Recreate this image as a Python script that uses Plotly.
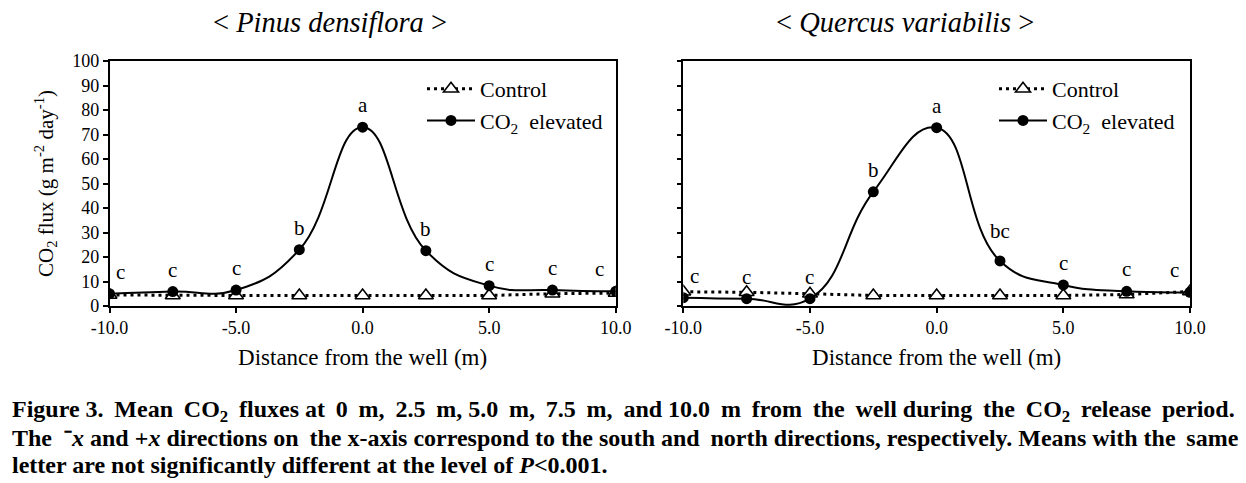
import plotly.graph_objects as go

FONT = "Liberation Serif"

distance = [-10.0, -7.5, -5.0, -2.5, 0.0, 2.5, 5.0, 7.5, 10.0]

pinus_control = [4.5, 4.3, 4.3, 4.3, 4.3, 4.3, 4.3, 5.0, 5.3]
pinus_elevated = [5.0, 5.9, 6.5, 23.0, 73.0, 22.6, 8.3, 6.5, 6.0]
pinus_letters = ["c", "c", "c", "b", "a", "b", "c", "c", "c"]

quercus_control = [5.8, 5.6, 5.0, 4.3, 4.3, 4.3, 4.3, 4.7, 5.9]
quercus_elevated = [3.4, 3.0, 3.0, 46.6, 72.8, 18.4, 8.6, 6.0, 5.6]
quercus_letters = ["c", "c", "c", "b", "a", "bc", "c", "c", "c"]

x_ticks = [-10, -5, 0, 5, 10]
x_tick_labels = ["-10.0", "-5.0", "0.0", "5.0", "10.0"]

panel_titles = ["< <i>Pinus densiflora</i> >", "< <i>Quercus variabilis</i> >"]

caption_lines = [
    "Figure 3. Mean CO<sub>2</sub> fluxes at 0 m, 2.5 m, 5.0 m, 7.5 m, and 10.0 m "
    "from the well during the CO<sub>2</sub> release period.",
    "The  \u207b<i>x</i> and +<i>x</i> directions on the x-axis correspond to the "
    "south and north directions, respectively. Means with the same",
    "letter are not significantly different at the level of <i>P</i><0.001.",
]


def justify(text, n_wide):
    # widen n_wide of the word gaps (spread evenly) with a thin space
    words = text.split(" ")
    gaps = len(words) - 1
    out = words[0]
    acc = 0
    for g in range(gaps):
        acc += n_wide
        sep = " "
        if acc >= gaps:
            acc -= gaps
            sep = " \u2009"
        out += sep + words[g + 1]
    return out


caption_text = [justify(caption_lines[0], 19), justify(caption_lines[1], 3), caption_lines[2]]

W, H = 1246, 483


def px(x):
    return x / W


def py(y):
    return 1 - y / H


x_dom = [(px(109.5), px(615.7)), (px(683.3), px(1190))]
y_dom = (py(306), py(61))
title_x = [330, 905]

fig = go.Figure()

panels = [
    (pinus_control, pinus_elevated, pinus_letters),
    (quercus_control, quercus_elevated, quercus_letters),
]

for i, (ctrl, elev, letters) in enumerate(panels):
    xa = "x" if i == 0 else "x2"
    ya = "y" if i == 0 else "y2"
    leg = "legend" if i == 0 else "legend2"
    fig.add_trace(go.Scatter(
        x=distance, y=ctrl, xaxis=xa, yaxis=ya, name="Control",
        mode="lines+markers", legend=leg, legendgroup="c%d" % i,
        line=dict(color="black", width=3, dash="3px,4px"),
        marker=dict(symbol="triangle-up", size=13, color="white",
                    line=dict(color="black", width=1.6)),
    ))
    fig.add_trace(go.Scatter(
        x=distance, y=elev, xaxis=xa, yaxis=ya, name="CO<sub>2</sub>  elevated",
        mode="lines+markers", legend=leg, legendgroup="e%d" % i,
        line=dict(color="black", width=2, shape="spline", smoothing=1.3),
        marker=dict(symbol="circle", size=11, color="black"),
    ))
    for k, (xv, yv, t) in enumerate(zip(distance, elev, letters)):
        xs = 0
        if k == 0:
            xs = 11
        elif k == len(distance) - 1:
            xs = -16
        ys = 22
        if t == "bc":
            ys = 30
        fig.add_annotation(x=xv, y=yv, xref=xa, yref=ya, text=t, showarrow=False,
                           xshift=xs, yshift=ys,
                           font=dict(family=FONT, size=21, color="black"))
    fig.add_annotation(x=px(title_x[i]), y=py(22), xref="paper", yref="paper",
                       text=panel_titles[i], showarrow=False, xanchor="center",
                       yanchor="middle", font=dict(family=FONT, size=28.5, color="black"))

axis_common = dict(showline=True, mirror=True, linecolor="black", linewidth=1.5,
                   ticks="outside", ticklen=5, tickcolor="black", tickwidth=1.5,
                   showgrid=False, zeroline=False, automargin=False,
                   tickfont=dict(family=FONT, size=18, color="black"))

for i in range(2):
    sx = "" if i == 0 else "2"
    fig.update_layout({
        "xaxis" + sx: dict(axis_common, domain=x_dom[i], range=[-10, 10],
                           tickvals=x_ticks, ticktext=x_tick_labels, anchor="y" + sx,
                           title=dict(text="Distance from the well (m)", standoff=12,
                                      font=dict(family=FONT, size=23, color="black"))),
        "yaxis" + sx: dict(axis_common, domain=y_dom, range=[0, 100], dtick=10,
                           anchor="x" + sx, showticklabels=(i == 0)),
    })

fig.update_layout(yaxis_title=dict(
    text="CO<sub>2</sub> flux (g m<sup>-2</sup> day<sup>-1</sup>)", standoff=13,
    font=dict(family=FONT, size=21, color="black")))

legend_style = dict(font=dict(family=FONT, size=22, color="black"), bgcolor="rgba(0,0,0,0)",
                    itemwidth=48, tracegroupgap=0, xanchor="left", yanchor="top")
fig.update_layout(
    legend=dict(legend_style, x=px(422), y=py(68)),
    legend2=dict(legend_style, x=px(994), y=py(68)),
)

for j, line in enumerate(caption_text):
    fig.add_annotation(x=px(10), y=py(411 + 27 * j), xref="paper", yref="paper",
                       text="<b>" + line + "</b>", showarrow=False, xanchor="left",
                       yanchor="middle", align="left",
                       font=dict(family=FONT, size=24, color="black"))

fig.update_layout(width=W, height=H, margin=dict(l=0, r=0, t=0, b=0),
                  paper_bgcolor="white", plot_bgcolor="white", showlegend=True)

# drop the default page margin so the figure fills the window exactly
fig.write_html("out.html", config={"displayModeBar": False},
               post_script="document.body.style.margin = '0';")
